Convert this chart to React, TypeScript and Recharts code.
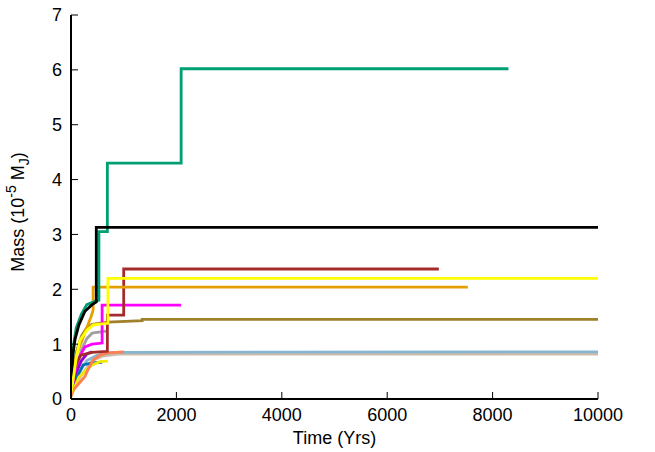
import { LineChart, Line, XAxis, YAxis } from "recharts"

const xTicks = [0, 2000, 4000, 6000, 8000, 10000]
const yTicks = [0, 1, 2, 3, 4, 5, 6, 7]

// time (yrs) / mass (1e-5 MJ) per run
const tanT = [0, 100, 250, 400, 600, 900, 10000]
const tanM = [0.05, 0.3, 0.5, 0.7, 0.78, 0.82, 0.82]
const skyT = [0, 100, 200, 300, 500, 800, 10000]
const skyM = [0.05, 0.35, 0.55, 0.7, 0.8, 0.85, 0.86]
const grayT = [0, 100, 200, 300, 400, 700]
const grayM = [0.1, 0.55, 0.9, 1.1, 1.2, 1.24]
const blueT = [0, 80, 230, 400, 590]
const blueM = [0.05, 0.35, 0.62, 0.66, 0.67]
const purpleT = [0, 80, 200, 300, 400]
const purpleM = [0.1, 0.45, 0.7, 0.82, 0.86]
const goldT = [0, 150, 400, 550, 700]
const goldM = [0.05, 0.4, 0.62, 0.68, 0.69]
const coralT = [0, 40, 210, 260, 320, 420, 550, 700, 1000]
const coralM = [0.05, 0.16, 0.35, 0.4, 0.53, 0.71, 0.8, 0.84, 0.86]
const goldenrodT = [0, 50, 100, 200, 300, 400, 700, 1350, 1350, 10000]
const goldenrodM = [0.15, 0.5, 0.85, 1.15, 1.3, 1.36, 1.4, 1.43, 1.45, 1.45]
const magentaT = [0, 60, 150, 265, 400, 590, 590, 2090]
const magentaM = [0.1, 0.45, 0.75, 0.95, 1.0, 1.02, 1.71, 1.71]
const brownT = [0, 40, 100, 190, 400, 690, 690, 1000, 1000, 6980]
const brownM = [0.15, 0.45, 0.65, 0.8, 0.85, 0.87, 1.53, 1.53, 2.37, 2.37]
const orangeT = [0, 50, 100, 200, 300, 380, 420, 420, 7530]
const orangeM = [0.15, 0.5, 0.8, 1.05, 1.3, 1.5, 1.62, 2.04, 2.04]
const greenT = [0, 20, 50, 100, 200, 300, 450, 530, 530, 690, 690, 2090, 2090, 8300]
const greenM = [0.3, 0.6, 1.0, 1.3, 1.55, 1.72, 1.78, 1.8, 3.05, 3.05, 4.3, 4.3, 6.02, 6.02]
const blackT = [0, 20, 40, 80, 150, 265, 400, 480, 480, 10000]
const blackM = [0.2, 0.55, 0.84, 1.1, 1.35, 1.6, 1.72, 1.77, 3.13, 3.13]
const yellowT = [0, 40, 100, 170, 300, 420, 700, 700, 10000]
const yellowM = [0.1, 0.35, 0.75, 1.07, 1.25, 1.35, 1.38, 2.2, 2.2]

const runs = [
  { t: tanT, m: tanM, color: "#cdbca9" },
  { t: skyT, m: skyM, color: "#87b6d2" },
  { t: grayT, m: grayM, color: "#a0a0a0" },
  { t: blueT, m: blueM, color: "#0072b2" },
  { t: purpleT, m: purpleM, color: "#9400d3" },
  { t: goldT, m: goldM, color: "#f5e800" },
  { t: coralT, m: coralM, color: "#ff7f50" },
  { t: goldenrodT, m: goldenrodM, color: "#a08028" },
  { t: magentaT, m: magentaM, color: "#ff00ff" },
  { t: brownT, m: brownM, color: "#a52a2a" },
  { t: orangeT, m: orangeM, color: "#e69f00" },
  { t: greenT, m: greenM, color: "#009e73" },
  { t: blackT, m: blackM, color: "#000000" },
  { t: yellowT, m: yellowM, color: "#ffff00" },
]

const font = "'Liberation Sans', Arial, sans-serif"
const tickStyle = { fill: "#000", fontSize: 18, fontFamily: font }
const blank = () => ""

function YLabel() {
  return (
    <text
      x={24}
      y={212}
      transform="rotate(-90 24 212)"
      textAnchor="middle"
      fontSize={18}
      fontFamily={font}
      fill="#000"
    >
      Mass (10
      <tspan dy={-8} fontSize={14}>-5</tspan>
      <tspan dy={8}> M</tspan>
      <tspan dy={5} fontSize={14}>J</tspan>
      <tspan dy={-5}>)</tspan>
    </text>
  )
}

function XLabel(props: any) {
  const vb = props.viewBox || { x: 71, width: 527 }
  return (
    <text
      x={vb.x + vb.width / 2}
      y={444}
      textAnchor="middle"
      fontSize={18}
      fontFamily={font}
      fill="#000"
    >
      Time (Yrs)
    </text>
  )
}

export default function App() {
  return (
    <div style={{ position: "fixed", left: 0, top: 0, background: "#fff" }}>
      <LineChart
        width={655}
        height={452}
        margin={{ top: 15, right: 57, left: 0, bottom: 0 }}
      >
        <XAxis
          type="number"
          dataKey="t"
          domain={[0, 10000]}
          ticks={xTicks}
          interval={0}
          allowDataOverflow
          height={53}
          tickSize={-7}
          tickMargin={16}
          tick={tickStyle}
          axisLine={{ stroke: "#000", strokeWidth: 2 }}
          tickLine={{ stroke: "#000" }}
          label={<XLabel />}
        />
        <XAxis
          xAxisId="top"
          orientation="top"
          type="number"
          domain={[0, 10000]}
          ticks={xTicks}
          interval={0}
          height={0}
          tickSize={-7}
          tickFormatter={blank}
          axisLine={{ stroke: "#000", strokeWidth: 2 }}
          tickLine={{ stroke: "#000" }}
        />
        <YAxis
          type="number"
          domain={[0, 7]}
          ticks={yTicks}
          interval={0}
          allowDataOverflow
          width={71}
          tickSize={-7}
          tickMargin={16}
          tick={tickStyle}
          axisLine={{ stroke: "#000", strokeWidth: 2 }}
          tickLine={{ stroke: "#000" }}
          label={<YLabel />}
        />
        <YAxis
          yAxisId="right"
          orientation="right"
          type="number"
          domain={[0, 7]}
          ticks={yTicks}
          interval={0}
          width={0}
          tickSize={-7}
          tickFormatter={blank}
          axisLine={{ stroke: "#000", strokeWidth: 2 }}
          tickLine={{ stroke: "#000" }}
        />
        {runs.map((r, i) => (
          <Line
            key={i}
            data={r.t.map((t, j) => ({ t, m: r.m[j] }))}
            dataKey="m"
            type="linear"
            stroke={r.color}
            strokeWidth={2.8}
            dot={false}
            activeDot={false}
            isAnimationActive={false}
          />
        ))}
      </LineChart>
    </div>
  )
}
